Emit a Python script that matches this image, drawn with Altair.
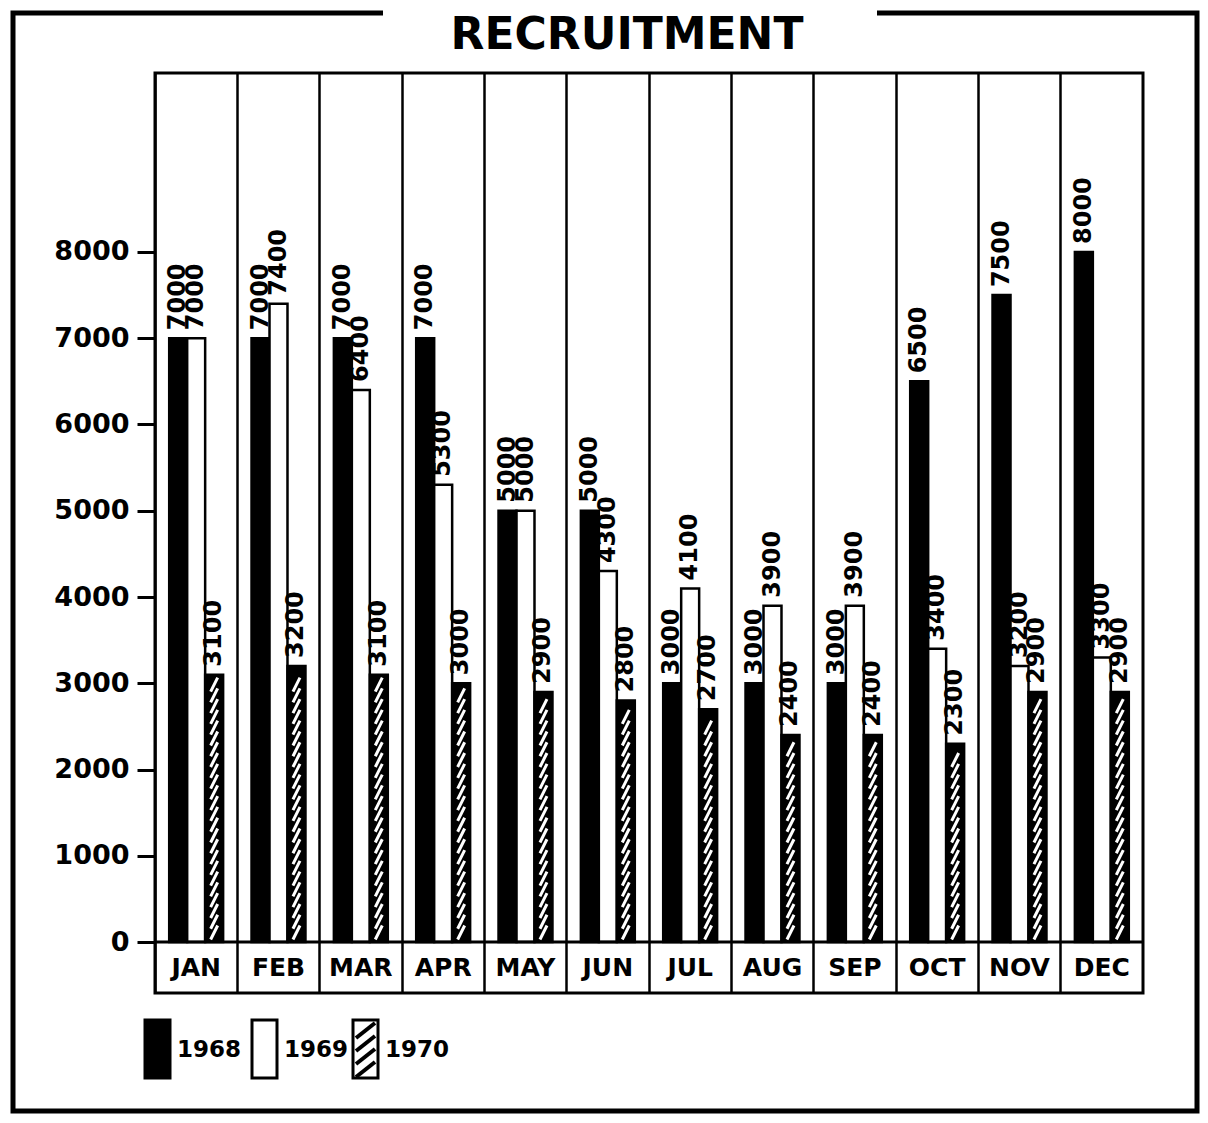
import altair as alt
import pandas as pd
import numpy as np

# ---------------- data ----------------
months = ["JAN", "FEB", "MAR", "APR", "MAY", "JUN", "JUL", "AUG", "SEP", "OCT", "NOV", "DEC"]
years = ["1968", "1969", "1970"]
v1968 = [7000, 7000, 7000, 7000, 5000, 5000, 3000, 3000, 3000, 6500, 7500, 8000]
v1969 = [7000, 7400, 6400, 5300, 5000, 4300, 4100, 3900, 3900, 3400, 3200, 3300]
v1970 = [3100, 3200, 3100, 3000, 2900, 2800, 2700, 2400, 2400, 2300, 2900, 2900]
y_ticks = [0, 1000, 2000, 3000, 4000, 5000, 6000, 7000, 8000]
title_text = "RECRUITMENT"

rows = []
for yr, vals in zip(years, [v1968, v1969, v1970]):
    for m, v in zip(months, vals):
        rows.append({"month": m, "year": yr, "value": v})
df = pd.DataFrame(rows)

# hatch stripe positions (decoration) inside the 1970 bars
hatch_rows = []
for m, v in zip(months, v1970):
    for h in np.arange(110, v - 95, 125):
        hatch_rows.append({"month": m, "year": "1970", "value": float(h)})
hatch_df = pd.DataFrame(hatch_rows)

# ---------------- layout ----------------
W, H = 988, 920
Y_DOMAIN = [-591, 10075]
FONT = "DejaVu Sans"

x_enc = alt.X(
    "month:N",
    sort=months,
    scale=alt.Scale(domain=months, paddingInner=0, paddingOuter=0),
    axis=alt.Axis(grid=True, bandPosition=0, labels=False, ticks=False, domain=False,
                  title=None, gridColor="black", gridWidth=2.5, gridOpacity=1),
)
xo_enc = alt.XOffset("year:N", scale=alt.Scale(domain=years, paddingInner=0, paddingOuter=0.79))
y_axis = alt.Axis(values=y_ticks, title=None, grid=False, domain=False,
                  tickSize=18, tickWidth=3, tickColor="black",
                  labelFont=FONT, labelFontWeight="bold", labelFontSize=27,
                  labelColor="black", labelPadding=8, format="d")
y_scale = alt.Scale(domain=Y_DOMAIN, nice=False, zero=False)
y_enc = alt.Y("value:Q", scale=y_scale, axis=y_axis)

bars = alt.Chart(df).mark_bar(stroke="black", strokeWidth=2.5).encode(
    x=x_enc,
    xOffset=xo_enc,
    y=y_enc,
    y2=alt.datum(0),
    fill=alt.Fill("year:N", scale=alt.Scale(domain=years, range=["black", "white", "black"]), legend=None),
)

hatch = alt.Chart(hatch_df).mark_point(
    shape="M-0.5,1L0.5,-1", size=196, filled=False, color="white",
    stroke="white", strokeWidth=3, opacity=1,
).encode(x=x_enc, xOffset=xo_enc, y=y_enc)

labels = alt.Chart(df).mark_text(
    angle=270, align="left", baseline="middle", dx=8,
    font=FONT, fontWeight="bold", fontSize=24, color="black",
).encode(x=x_enc, xOffset=xo_enc, y=y_enc, text=alt.Text("value:Q", format="d"))

zero_line = alt.Chart(pd.DataFrame({"k": [0]})).mark_rule(color="black", strokeWidth=3).encode(
    y=alt.Y(datum=0, scale=y_scale, axis=y_axis)
)

month_df = pd.DataFrame({"month": months})
month_labels = alt.Chart(month_df).mark_text(
    font=FONT, fontWeight="bold", fontSize=25, color="black", baseline="middle",
).encode(x=x_enc, y=alt.Y(datum=-296, scale=y_scale, axis=y_axis), text="month:N")

one = pd.DataFrame({"k": [0]})

frame = alt.Chart(one).mark_rect(fill="white", fillOpacity=0, stroke="black", strokeWidth=5).encode(
    x=alt.value(-142), x2=alt.value(1042), y=alt.value(-60), y2=alt.value(1038)
)
title_gap = alt.Chart(one).mark_rect(fill="white").encode(
    x=alt.value(228), x2=alt.value(722), y=alt.value(-80), y2=alt.value(-50)
)
title = alt.Chart(one).mark_text(
    text=title_text, font=FONT, fontWeight="bold", fontSize=44,
    align="center", baseline="alphabetic", color="black",
).encode(x=alt.value(472), y=alt.value(-24))

# ---------------- legend ----------------
legend_x = [-10, 97, 198]
legend_fill = ["black", "white", "white"]
leg_top, leg_bot, leg_w = 947, 1005, 25
legend_layers = []
for i, yr in enumerate(years):
    x0 = legend_x[i]
    legend_layers.append(
        alt.Chart(one).mark_rect(fill=legend_fill[i], stroke="black", strokeWidth=3).encode(
            x=alt.value(x0), x2=alt.value(x0 + leg_w), y=alt.value(leg_top), y2=alt.value(leg_bot)
        )
    )
    legend_layers.append(
        alt.Chart(pd.DataFrame({"year": [yr]})).mark_text(
            font=FONT, fontWeight="bold", fontSize=23, align="left", baseline="middle", color="black",
        ).encode(x=alt.value(x0 + 32), y=alt.value(977), text="year:N")
    )
    if i == 2:
        for k in range(4):
            yb = leg_top + 18 + k * 13
            legend_layers.append(
                alt.Chart(one).mark_rule(color="black", strokeWidth=4).encode(
                    x=alt.value(x0 + 3), x2=alt.value(x0 + leg_w - 3),
                    y=alt.value(yb), y2=alt.value(yb - 15)
                )
            )

chart = alt.layer(
    bars, hatch, labels, zero_line, month_labels, frame, title_gap, title, *legend_layers
).properties(
    width=W, height=H,
    autosize=alt.AutoSizeParams(type="none"),
    padding={"left": 147, "top": 65, "right": 57, "bottom": 124},
    background="white",
).configure_view(stroke="black", strokeWidth=3)

chart.save("out.html", embed_options={"renderer": "svg", "actions": False})
